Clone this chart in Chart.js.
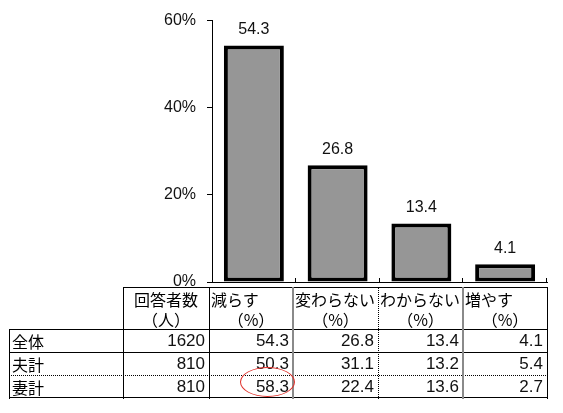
<!DOCTYPE html>
<html>
<head>
<meta charset="utf-8">
<script src="https://cdn.jsdelivr.net/npm/chart.js@4/dist/chart.umd.min.js"></script>
<style>
  html, body { margin: 0; padding: 0; background: #fff; }
  #wrap { position: relative; width: 563px; height: 413px; overflow: hidden; }
  #chart { position: absolute; left: 0; top: 0; }
  .ln { position: absolute; }
  .cell { position: absolute; white-space: nowrap; color: #000; }
  .jp { font-family: "Noto Sans CJK JP", sans-serif; font-size: 16px; }
  .num { font-family: "Liberation Sans", Arial, sans-serif; font-size: 17px; color: #111; }
</style>
</head>
<body>
<div id="wrap">
  <canvas id="chart" width="563" height="413"></canvas>
  <div id="table"></div>
</div>
<script>
(function() {
    "use strict";

// answers and unit lines of the table header
var categories = ['減らす', '変わらない', 'わからない', '増やす'];
var countHeader = '回答者数';
var rowLabels = ['全体', '夫計', '妻計'];
var counts = [1620, 810, 810];
var totalValues = [54.3, 26.8, 13.4, 4.1];   // 全体, drawn as bars
var husbandValues = [50.3, 31.1, 13.2, 5.4];
var wifeValues = [58.3, 22.4, 13.6, 2.7];
var yTicks = [0, 20, 40, 60];

var ctx = document.getElementById('chart');

// value above each bar
var barLabels = {
    id: 'barLabels',
    afterDatasetsDraw: function(chart) {
        var c = chart.ctx;
        c.save();
        c.font = '16px "Liberation Sans", Arial, sans-serif';
        c.fillStyle = '#111';
        c.textAlign = 'center';
        c.textBaseline = 'middle';
        chart.getDatasetMeta(0).data.forEach(function(bar, i) {
            c.fillText(totalValues[i].toFixed(1), bar.x, bar.y - 16);
        });
        c.restore();
    }
};

// short tick marks between categories, pointing up from the axis
var catTicks = {
    id: 'catTicks',
    afterDraw: function(chart) {
        var x = chart.scales.x, c = chart.ctx;
        var step = (x.right - x.left) / categories.length;
        c.save();
        c.strokeStyle = '#000';
        c.lineWidth = 1;
        for (var i = 1; i <= categories.length; i++) {
            var px = Math.round(x.left + step * i) - 0.5;
            c.beginPath();
            c.moveTo(px, x.top - 4);
            c.lineTo(px, x.top);
            c.stroke();
        }
        c.restore();
    }
};

new Chart(ctx, {
    type: 'bar',
    data: {
        labels: categories,
        datasets: [{
            data: totalValues,
            backgroundColor: '#969696',
            borderColor: '#000',
            borderWidth: 4,
            borderSkipped: false,
            categoryPercentage: 1,
            barPercentage: 0.716
        }]
    },
    options: {
        responsive: false,
        animation: false,
        layout: { padding: { left: 0, top: 19, right: 16, bottom: 131 } },
        plugins: { legend: { display: false }, tooltip: { enabled: false } },
        scales: {
            x: {
                grid: { display: false },
                ticks: { display: false },
                border: { display: true, color: '#000', width: 1 },
                afterFit: function(s) { s.height = 0; }
            },
            y: {
                min: 0,
                max: 60,
                afterBuildTicks: function(s) {
                    s.ticks = yTicks.map(function(v) { return { value: v }; });
                },
                ticks: {
                    padding: 11,
                    color: '#111',
                    font: { family: '"Liberation Sans", Arial, sans-serif', size: 16 },
                    callback: function(v) { return v + '%'; }
                },
                grid: { drawOnChartArea: false, tickLength: 5, color: '#000' },
                border: { display: true, color: '#000', width: 1 },
                afterFit: function(s) { s.width = 212; }
            }
        }
    },
    plugins: [barLabels, catTicks]
});

// table under the chart, built from the arrays above
var colX = [9, 123, 209, 293, 378, 463, 547];
var rowY = [287, 329, 352, 375, 397];
var tbl = document.getElementById('table');

function line(x, y, w, h, style) {
    var d = document.createElement('div');
    d.className = 'ln';
    d.style.left = x + 'px';
    d.style.top = y + 'px';
    d.style.width = w + 'px';
    d.style.height = h + 'px';
    for (var k in style) d.style[k] = style[k];
    tbl.appendChild(d);
}
function text(str, cls, x, w, cy, align, pad) {
    var d = document.createElement('div');
    d.className = 'cell ' + cls;
    d.textContent = str;
    d.style.left = x + 'px';
    d.style.width = w + 'px';
    d.style.top = (cy - 12) + 'px';
    d.style.lineHeight = '24px';
    d.style.textAlign = align;
    if (pad) {
        if (align === 'right') d.style.paddingRight = pad + 'px';
        else d.style.paddingLeft = pad + 'px';
        d.style.width = (w - pad) + 'px';
    }
    tbl.appendChild(d);
}

var solid = { background: '#000' };
var gray = { background: '#8a8a8a' };
function hdot() { return { borderTop: '1px dotted #000' }; }
function vdot() { return { borderLeft: '1px dotted #000' }; }

// horizontal rules
line(colX[1], rowY[0], colX[6] - colX[1] + 1, 1, solid);
line(colX[0], rowY[1], colX[6] - colX[0] + 1, 1, solid);
line(colX[0], rowY[2], colX[6] - colX[0] + 1, 1, solid);
line(colX[0], rowY[3], colX[6] - colX[0] + 1, 0, hdot());
line(colX[0], rowY[4], colX[6] - colX[0] + 1, 1, solid);
// vertical rules
line(colX[0], rowY[1], 1, rowY[4] - rowY[1] + 2, solid);
line(colX[1], rowY[0], 1, rowY[4] - rowY[0] + 2, solid);
line(colX[2], rowY[0], 1, rowY[4] - rowY[0] + 2, solid);
line(colX[3] - 1, rowY[0], 2, rowY[4] - rowY[0] + 2, gray);
line(colX[4], rowY[0], 0, rowY[4] - rowY[0] + 2, vdot());
line(colX[5] - 1, rowY[0], 2, rowY[4] - rowY[0] + 2, gray);
line(colX[6], rowY[0], 1, rowY[4] - rowY[0] + 2, solid);

// header
var h1 = 299, h2 = 319;
text(countHeader, 'jp', colX[1], colX[2] - colX[1], h1, 'center');
text('（人）', 'jp', colX[1], colX[2] - colX[1], h2, 'center');
categories.forEach(function(cat, i) {
    var x = colX[i + 2], w = colX[i + 3] - x;
    text(cat, 'jp', x, w, h1, 'left', 2);
    text('（%）', 'jp', x, w, h2, 'center');
});

// body rows
var rowValues = [totalValues, husbandValues, wifeValues];
var rowCenters = [341, 364, 387];
rowLabels.forEach(function(lbl, r) {
    var cy = rowCenters[r];
    text(lbl, 'jp', colX[0], colX[1] - colX[0], cy, 'left', 3);
    text(String(counts[r]), 'num', colX[1], colX[2] - colX[1], cy, 'right', 4);
    rowValues[r].forEach(function(v, i) {
        var x = colX[i + 2], w = colX[i + 3] - x;
        text(v.toFixed(1), 'num', x, w, cy, 'right', 4);
    });
});

// red ring around 妻計 / 減らす
line(240, 367, 55, 30, { border: '1px solid #e0302a', borderRadius: '50%', boxSizing: 'border-box' });

})();
</script>
</body>
</html>
